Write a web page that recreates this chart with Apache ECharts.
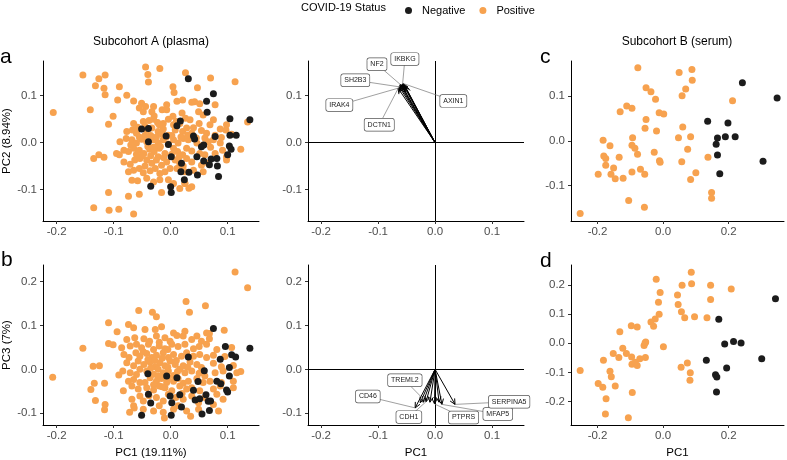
<!DOCTYPE html>
<html style="height: 100%">
<head>
<meta charset="UTF-8">
<title>PCA - COVID-19 status</title>
<script src="https://cdn.jsdelivr.net/npm/echarts@6/dist/echarts.min.js"></script>
</head>
<body style="height:100%; margin:0; background:#fff">
<div id="main" style="width:787px;height:460px;"></div>
<script>
// ---- data ----
// panel a: PC1 vs PC2, subcohort A (plasma)
var aPos = [[-0.206,0.064],[-0.154,0.144],[-0.126,0.136],[-0.115,0.144],[-0.132,0.121],[-0.117,0.116],[-0.115,0.102],[-0.141,0.070],[-0.101,0.056],[-0.109,0.039],
  [-0.090,0.119],[-0.093,0.091],[-0.077,0.101],[-0.065,0.089],[-0.044,0.161],[-0.040,0.145],[-0.039,0.129],[-0.019,0.158],[0.026,0.149],[0.070,0.138],
  [0.113,0.130],[0.004,0.119],[0.047,0.117],[0.006,0.107],[0.021,0.091],[0.042,0.087],[-0.135,-0.034],[-0.126,-0.026],[-0.117,-0.031],[-0.090,-0.026],
  [-0.109,-0.106],[-0.135,-0.139],[-0.108,-0.144],[-0.091,-0.142],[-0.065,-0.152],[-0.074,-0.114],[-0.055,-0.110],[-0.058,-0.081],[-0.016,-0.106],[0.016,-0.098],
  [0.032,-0.097],[0.025,-0.087],[0.123,-0.014],[0.135,0.044],
  [-0.051,0.084],[-0.044,0.077],[-0.030,0.077],[-0.007,0.081],[0.011,0.088],[0.037,0.086],[0.051,0.083],[0.078,0.081],
  [-0.055,0.074],[-0.048,0.066],[-0.033,0.066],[-0.029,0.057],[-0.015,0.070],[-0.007,0.070],[0.004,0.056],[0.020,0.063],[0.026,0.052],[0.049,0.066],[0.057,0.059],[0.075,0.049],
  [-0.065,0.041],[-0.048,0.045],[-0.038,0.047],[-0.030,0.050],[-0.023,0.043],[-0.013,0.041],[-0.004,0.050],[0.005,0.038],[0.016,0.041],[0.034,0.049],[0.050,0.041],[0.069,0.038],[0.098,0.038],[0.087,0.029],
  [-0.077,0.024],[-0.067,0.027],[-0.058,0.033],[-0.042,0.027],[-0.033,0.031],[-0.022,0.024],[-0.013,0.029],[-0.004,0.016],[0.008,0.027],[0.021,0.024],[0.028,0.031],[0.037,0.020],[0.054,0.026],[0.063,0.020],[0.078,0.016],[0.089,0.011],[0.097,0.027],[0.107,0.018],
  [-0.089,0.002],[-0.078,0.009],[-0.068,0.006],[-0.060,-0.001],[-0.051,0.007],[-0.042,0.002],[-0.030,0.006],[-0.022,-0.001],[-0.013,0.006],[-0.004,-0.003],[0.005,0.006],[0.013,-0.001],[0.022,0.009],[0.031,0.006],[0.046,-0.001],[0.057,-0.005],[0.066,0.002],[0.075,0.006],[0.087,-0.001],
  [-0.095,-0.023],[-0.082,-0.016],[-0.074,-0.019],[-0.065,-0.012],[-0.055,-0.016],[-0.047,-0.023],[-0.037,-0.014],[-0.029,-0.019],[-0.020,-0.012],[-0.010,-0.023],[0.005,-0.012],[0.012,-0.019],[0.021,-0.026],[0.028,-0.012],[0.037,-0.018],[0.051,-0.023],[0.060,-0.026],[0.078,-0.023],[0.091,-0.016],[0.098,-0.030],
  [-0.082,-0.041],[-0.071,-0.046],[-0.063,-0.037],[-0.054,-0.034],[-0.042,-0.037],[-0.033,-0.044],[-0.025,-0.037],[-0.016,-0.048],[-0.007,-0.041],[0.008,-0.037],[0.016,-0.044],[0.028,-0.034],[0.037,-0.041],[0.054,-0.048],[0.066,-0.044],[0.098,-0.037],
  [-0.074,-0.062],[-0.065,-0.059],[-0.055,-0.055],[-0.048,-0.064],[-0.036,-0.060],[-0.027,-0.055],[-0.019,-0.066],[-0.010,-0.062],[-0.001,-0.055],[0.011,-0.055],[0.025,-0.062],[0.040,-0.059],[0.057,-0.062],
  [-0.068,-0.080],[-0.042,-0.076],[-0.030,-0.084],[-0.019,-0.079],[-0.004,-0.079],[0.005,-0.087],[0.025,-0.087],[0.037,-0.094],
  [-0.035,0.015],[-0.025,0.012],[-0.015,0.018],[-0.045,0.015],[-0.055,0.012],[-0.040,-0.008],[-0.030,-0.010],[-0.018,-0.008],[-0.008,0.012],[0.002,0.015],
  [-0.050,-0.028],[-0.035,-0.028],[-0.022,-0.030],[-0.012,-0.032],[0.002,-0.025],[0.018,0.012],[0.030,0.016],[0.040,0.032],[-0.060,0.020],[-0.070,-0.005],
  [-0.045,0.035],[-0.020,0.038],[0.010,0.045],[0.022,-0.050],[-0.045,-0.050],[-0.060,-0.025],[0.045,0.010],[0.060,0.010],[0.070,-0.010],[0.015,-0.030]];
var aNeg = [[0.031,0.136],[0.075,0.104],[0.063,0.088],[0.064,0.065],[0.104,0.051],[0.139,0.049],[0.017,0.046],[-0.051,0.029],[-0.039,0.030],[-0.039,0.002],
  [-0.008,0.014],[0.011,0.036],[-0.004,-0.004],[0.040,0.014],[0.042,0.008],[0.054,-0.009],[0.058,-0.005],[0.078,0.013],[0.104,0.016],[0.115,0.016],
  [0.103,-0.007],[0.106,-0.014],[0.001,-0.030],[0.046,-0.030],[0.071,-0.035],[0.081,-0.034],[0.019,-0.044],[0.058,-0.039],[0.068,-0.047],[0.082,-0.050],
  [0.100,-0.026],[0.018,-0.062],[0.032,-0.063],[0.047,-0.069],[0.084,-0.072],[0.024,-0.079],[-0.035,-0.093],[0.000,-0.094],[0.001,-0.106]];

// panel b: PC1 vs PC3, subcohort A (plasma)
var bPos = [[-0.207,-0.018],[-0.154,0.048],[0.113,0.222],[0.135,0.186],[-0.109,0.106],[-0.094,0.086],[-0.109,0.059],[-0.101,0.056],[-0.074,0.102],[-0.056,0.134],
  [-0.032,0.130],[-0.025,0.120],[0.027,0.155],[0.033,0.130],[0.061,0.145],[-0.136,0.007],[-0.125,0.008],[-0.140,-0.046],[-0.132,-0.071],[-0.134,-0.032],
  [-0.116,-0.032],[-0.115,-0.080],[-0.116,-0.092],[-0.091,-0.013],[-0.072,-0.098],[-0.064,-0.088],[-0.011,-0.111],[0.035,-0.107],[0.123,-0.005],[0.094,0.089],
  [0.107,0.050],[0.068,0.070],
  [-0.065,0.095],[-0.045,0.091],[-0.027,0.091],[-0.016,0.097],[0.005,0.083],[0.025,0.087],[0.046,0.076],[0.063,0.083],
  [-0.077,0.068],[-0.063,0.072],[-0.047,0.070],[-0.037,0.064],[-0.025,0.076],[-0.010,0.072],[-0.001,0.064],[0.011,0.077],[0.022,0.076],[0.037,0.068],[0.054,0.064],[0.068,0.082],
  [-0.086,0.049],[-0.071,0.053],[-0.060,0.057],[-0.051,0.049],[-0.039,0.057],[-0.030,0.045],[-0.020,0.053],[-0.010,0.047],[0.002,0.057],[0.013,0.052],[0.025,0.057],[0.040,0.047],[0.050,0.052],[0.063,0.057],[0.081,0.045],
  [-0.082,0.034],[-0.073,0.027],[-0.061,0.038],[-0.054,0.030],[-0.042,0.036],[-0.033,0.027],[-0.025,0.032],[-0.013,0.038],[-0.004,0.027],[0.005,0.034],[0.019,0.030],[0.028,0.038],[0.040,0.030],[0.051,0.034],[0.063,0.027],[0.075,0.032],[0.095,0.029],
  [-0.077,0.015],[-0.065,0.008],[-0.057,0.019],[-0.047,0.011],[-0.036,0.017],[-0.027,0.006],[-0.019,0.015],[-0.010,0.008],[-0.001,0.019],[0.008,0.011],[0.022,0.008],[0.034,0.017],[0.046,0.011],[0.054,0.004],[0.075,0.014],[0.089,0.006],[0.110,0.009],
  [-0.084,-0.004],[-0.071,-0.008],[-0.054,0.000],[-0.042,-0.004],[-0.030,-0.011],[-0.022,0.000],[-0.013,-0.008],[-0.004,-0.004],[0.005,-0.014],[0.016,0.000],[0.025,-0.008],[0.037,-0.004],[0.050,-0.009],[0.060,-0.015],[0.078,-0.008],[0.092,-0.004],[0.116,-0.008],
  [-0.074,-0.027],[-0.065,-0.023],[-0.054,-0.030],[-0.036,-0.019],[-0.025,-0.027],[-0.016,-0.021],[-0.007,-0.030],[0.005,-0.027],[0.013,-0.021],[0.022,-0.032],[0.031,-0.027],[0.046,-0.021],[0.057,-0.030],[0.069,-0.027],[0.089,-0.030],[0.110,-0.027],
  [-0.083,-0.049],[-0.068,-0.038],[-0.057,-0.045],[-0.042,-0.042],[-0.030,-0.047],[-0.020,-0.038],[-0.010,-0.042],[0.002,-0.049],[0.016,-0.038],[0.028,-0.045],[0.037,-0.042],[0.051,-0.049],[0.075,-0.045],[0.087,-0.038],[0.110,-0.042],
  [-0.068,-0.068],[-0.054,-0.061],[-0.025,-0.064],[-0.013,-0.072],[-0.004,-0.057],[0.009,-0.064],[0.022,-0.068],[0.037,-0.061],[0.049,-0.076],[0.060,-0.064],[0.081,-0.057],[0.092,-0.068],[-0.048,-0.072],
  [-0.065,-0.083],[-0.048,-0.091],[-0.030,-0.095],[-0.020,-0.083],[-0.013,-0.098],[0.005,-0.091],[0.013,-0.083],[0.028,-0.095],[0.049,-0.091],[0.075,-0.080],[0.084,-0.095],
  [-0.040,0.022],[-0.028,0.020],[-0.015,0.025],[-0.005,0.005],[-0.035,0.003],[-0.022,-0.015],[-0.012,-0.017],[-0.030,-0.035],[-0.015,-0.040],[-0.005,-0.020],
  [0.010,0.020],[0.012,-0.005],[-0.048,0.040],[-0.020,0.062],[0.030,0.005],[-0.060,-0.012],[-0.045,-0.030],[-0.005,0.045],[0.020,-0.055],[-0.038,-0.060]];
var bNeg = [[0.075,0.093],[0.096,0.052],[0.107,0.033],[0.114,0.028],[0.139,0.048],[0.087,0.023],[0.031,0.028],[0.103,0.004],[0.103,-0.015],[0.059,-0.003],
  [-0.040,-0.010],[-0.007,-0.015],[0.011,-0.019],[0.048,-0.028],[-0.039,-0.057],[-0.035,-0.077],[-0.001,-0.061],[0.002,-0.076],[0.016,-0.058],[0.019,-0.086],
  [0.040,-0.048],[0.043,-0.070],[0.051,-0.067],[0.062,-0.058],[0.066,-0.073],[0.070,-0.072],[0.081,-0.027],[0.088,-0.033],[0.098,-0.047],[0.100,-0.052],
  [0.068,-0.094],[0.055,-0.102],[-0.051,-0.105],[0.001,-0.105]];

// panel c: PC1 vs PC2, subcohort B (serum)
var cPos = [[-0.253,-0.163],[-0.077,0.164],[0.049,0.153],[0.088,0.160],[0.089,0.136],[0.069,0.116],[0.058,0.101],[-0.052,0.119],[-0.037,0.110],[-0.023,0.093],
  [-0.111,0.078],[-0.095,0.073],[-0.131,0.065],[-0.012,0.063],[0.002,0.060],[-0.052,0.048],[-0.055,0.028],[-0.020,0.022],[0.060,0.031],[0.212,0.090],
  [-0.183,0.001],[-0.162,-0.011],[-0.093,0.007],[0.047,0.007],[0.084,0.009],[-0.181,-0.034],[-0.175,-0.040],[-0.175,-0.055],[-0.134,-0.037],[-0.095,-0.010],
  [-0.086,-0.017],[-0.078,-0.030],[-0.027,-0.026],[-0.011,-0.045],[-0.009,-0.048],[0.075,-0.019],[0.057,-0.047],[0.137,-0.037],[-0.151,-0.061],[-0.198,-0.075],
  [-0.159,-0.075],[-0.146,-0.085],[-0.122,-0.084],[-0.095,-0.070],[-0.069,-0.064],[-0.056,-0.075],[0.100,-0.072],[0.084,-0.087],[0.148,-0.116],[0.148,-0.129],
  [-0.105,-0.134],[-0.057,-0.149]];
var cNeg = [[0.242,0.130],[0.348,0.096],[0.136,0.044],[0.198,0.040],[0.220,0.009],[0.190,0.009],[0.166,0.006],[0.162,-0.008],[0.166,-0.032],[0.305,-0.046],[0.173,-0.074]];

// panel d: PC1 vs PC3, subcohort B (serum)
var dPos = [[-0.253,-0.093],[-0.198,-0.138],[-0.184,-0.151],[-0.174,-0.190],[-0.176,-0.242],[-0.106,-0.255],[-0.094,-0.169],[-0.146,-0.146],[-0.158,-0.115],[-0.162,-0.096],
  [-0.182,-0.058],[-0.152,-0.035],[-0.135,-0.049],[-0.123,-0.017],[-0.112,-0.035],[-0.096,-0.047],[-0.095,-0.072],[-0.085,-0.065],[-0.079,-0.076],[-0.071,-0.053],
  [-0.054,-0.049],[-0.058,-0.008],[-0.055,0.001],[-0.053,0.004],[0.001,-0.012],[-0.132,0.039],[-0.097,0.060],[-0.079,0.056],[-0.029,0.058],[-0.037,0.073],
  [-0.024,0.083],[-0.012,0.099],[-0.014,0.140],[-0.009,0.174],[-0.021,0.219],[0.044,0.165],[0.046,0.133],[0.056,0.108],[0.066,0.087],[0.096,0.091],
  [0.058,0.199],[0.086,0.243],[0.087,0.204],[0.145,0.199],[0.145,0.150],[0.208,0.186],[0.134,0.087],[0.055,-0.082],[0.074,-0.068],[0.083,-0.101],[0.082,-0.127]];
var dNeg = [[0.343,0.152],[0.170,0.082],[0.188,-0.003],[0.215,0.006],[0.238,0.001],[0.301,-0.053],[0.132,-0.058],[0.194,-0.085],[0.160,-0.108],[0.164,-0.116],[0.163,-0.167]];

// loadings (arrow tips) for the biplots
var topTips = [[-0.065,0.116],[-0.063,0.119],[-0.062,0.122],[-0.061,0.124],[-0.059,0.123],[-0.057,0.125],[-0.056,0.126],[-0.054,0.122],[-0.052,0.119]];
var topLabels = ['NF2','IKBKG','SH2B3','IRAK4','DCTN1','AXIN1'];
var topLabelPos = [[-0.102,0.167],[-0.053,0.178],[-0.140,0.133],[-0.168,0.080],[-0.098,0.038],[0.032,0.089]];
var topLabelTip = [3,5,1,0,2,6];

var bottomTips = [[-0.035,-0.088],[-0.026,-0.076],[-0.021,-0.075],[-0.016,-0.074],[-0.009,-0.075],[-0.001,-0.079],[0.007,-0.075],[0.012,-0.080],[0.035,-0.080]];
var bottomLabels = ['TREML2','CD46','CDH1','PTPRS','MFAP5','SERPINA5'];
var bottomLabelPos = [[-0.053,-0.025],[-0.118,-0.062],[-0.046,-0.109],[0.050,-0.110],[0.110,-0.102],[0.130,-0.074]];
var bottomLabelTip = [3,0,3,5,7,8];

// tick labels
var ticksX_A = [-0.2,-0.1,0,0.1];
var ticksY_A = [-0.1,0,0.1];
var ticksY_B = [-0.1,0,0.1,0.2];
var ticksX_C = [-0.2,0,0.2];
var ticksY_C = [-0.1,0,0.1];
var ticksY_D = [-0.2,-0.1,0,0.1,0.2];

var fam = 'Liberation Sans';
var colNeg = '#1c1c1c';
var colPos = '#f7a24f';

var myChart = echarts.init(document.getElementById('main'));

function axis(grid, min, max, ticks, name, isY) {
  return {
    type: 'value', gridIndex: grid, min: min, max: max,
    axisLine: { show: true, onZero: false, lineStyle: { color: '#000', width: 1 } },
    axisTick: { show: true, length: 3, customValues: ticks, lineStyle: { color: '#333' } },
    axisLabel: { customValues: ticks, formatter: function (v) { return v.toFixed(1); },
      color: '#4d4d4d', fontSize: 11.5, fontFamily: fam, margin: isY ? 6 : 5 },
    splitLine: { show: false },
    name: name, nameLocation: 'middle', nameGap: isY ? 23 : 22,
    nameTextStyle: { color: '#000', fontSize: 11.5, fontFamily: fam }
  };
}

function scatter(idx, name, data, color) {
  return { type: 'scatter', name: name, xAxisIndex: idx, yAxisIndex: idx, data: data,
    symbolSize: 7, itemStyle: { color: color, opacity: 1 }, silent: true };
}

// arrow from origin to each loading
function arrowItem(params, api) {
  var o = api.coord([0, 0]);
  var t = api.coord([api.value(0), api.value(1)]);
  var ang = Math.atan2(t[1] - o[1], t[0] - o[0]);
  var L = 6, A = Math.PI / 7;
  var p1 = [t[0] - L * Math.cos(ang - A), t[1] - L * Math.sin(ang - A)];
  var p2 = [t[0] - L * Math.cos(ang + A), t[1] - L * Math.sin(ang + A)];
  return { type: 'group', children: [
    { type: 'line', shape: { x1: o[0], y1: o[1], x2: t[0], y2: t[1] }, style: { stroke: '#000', lineWidth: 1 } },
    { type: 'polyline', shape: { points: [p1, t, p2] }, style: { stroke: '#000', fill: null, lineWidth: 1 } }
  ] };
}

function labelItem(names) {
  return function (params, api) {
    var p = api.coord([api.value(0), api.value(1)]);
    var t = api.coord([api.value(2), api.value(3)]);
    return { type: 'group', children: [
      { type: 'line', shape: { x1: p[0], y1: p[1], x2: t[0], y2: t[1] }, style: { stroke: '#777', lineWidth: 0.7 } },
      { type: 'text', x: p[0], y: p[1], style: { text: names[params.dataIndex], align: 'center', verticalAlign: 'middle',
        fontSize: 7, fontFamily: fam, fill: '#222', backgroundColor: '#fff', borderColor: '#555', borderWidth: 0.7,
        borderRadius: 2, padding: [2.5, 3] } }
    ] };
  };
}

function labelData(pos, tipIdx, tips) {
  return pos.map(function (p, i) { var t = tips[tipIdx[i]]; return [p[0], p[1], t[0], t[1]]; });
}

var refLines = { silent: true, symbol: 'none', label: { show: false }, animation: false,
  lineStyle: { color: '#000', width: 1, type: 'solid' }, data: [{ xAxis: 0 }, { yAxis: 0 }] };

var option = {
  animation: false,
  backgroundColor: '#fff',
  legend: {
    data: ['Negative', 'Positive'], left: 400, top: 0, icon: 'circle', itemWidth: 7, itemHeight: 7, itemGap: 14,
    textStyle: { fontFamily: fam, fontSize: 11, color: '#000', padding: [0, 0, 0, 5] }
  },
  grid: [
    { left: 43, top: 61, width: 216, height: 160 },
    { left: 43, top: 265, width: 216, height: 161 },
    { left: 308, top: 61, width: 216, height: 160 },
    { left: 308, top: 265, width: 216, height: 161 },
    { left: 571, top: 61, width: 213, height: 160 },
    { left: 571, top: 265, width: 213, height: 161 }
  ],
  xAxis: [
    axis(0, -0.224, 0.155, ticksX_A, '', false),
    axis(1, -0.224, 0.155, ticksX_A, 'PC1 (19.11%)', false),
    axis(2, -0.223, 0.156, ticksX_A, '', false),
    axis(3, -0.223, 0.156, ticksX_A, 'PC1', false),
    axis(4, -0.281, 0.369, ticksX_C, '', false),
    axis(5, -0.281, 0.369, ticksX_C, 'PC1', false)
  ],
  yAxis: [
    axis(0, -0.167, 0.174, ticksY_A, 'PC2 (8.94%)', true),
    axis(1, -0.127, 0.238, ticksY_B, 'PC3 (7%)', true),
    axis(2, -0.167, 0.174, ticksY_A, '', true),
    axis(3, -0.127, 0.238, ticksY_B, '', true),
    axis(4, -0.180, 0.179, ticksY_C, '', true),
    axis(5, -0.280, 0.268, ticksY_D, '', true)
  ],
  graphic: [
    { type: 'text', x: 301, y: 8, style: { text: 'COVID-19 Status', verticalAlign: 'middle', fontSize: 11, fontFamily: fam, fill: '#000' } },
    { type: 'text', x: 151, y: 42, style: { text: 'Subcohort A (plasma)', align: 'center', verticalAlign: 'middle', fontSize: 12, fontFamily: fam, fill: '#000' } },
    { type: 'text', x: 677, y: 42, style: { text: 'Subcohort B (serum)', align: 'center', verticalAlign: 'middle', fontSize: 12, fontFamily: fam, fill: '#000' } },
    { type: 'text', x: 0, y: 57, style: { text: 'a', verticalAlign: 'middle', fontSize: 21, fontFamily: fam, fill: '#000' } },
    { type: 'text', x: 1, y: 260, style: { text: 'b', verticalAlign: 'middle', fontSize: 21, fontFamily: fam, fill: '#000' } },
    { type: 'text', x: 540, y: 57, style: { text: 'c', verticalAlign: 'middle', fontSize: 21, fontFamily: fam, fill: '#000' } },
    { type: 'text', x: 540, y: 261, style: { text: 'd', verticalAlign: 'middle', fontSize: 21, fontFamily: fam, fill: '#000' } }
  ],
  series: [
    scatter(0, 'Positive', aPos, colPos),
    scatter(0, 'Negative', aNeg, colNeg),
    scatter(1, 'Positive', bPos, colPos),
    scatter(1, 'Negative', bNeg, colNeg),
    scatter(4, 'Positive', cPos, colPos),
    scatter(4, 'Negative', cNeg, colNeg),
    scatter(5, 'Positive', dPos, colPos),
    scatter(5, 'Negative', dNeg, colNeg),
    { type: 'custom', xAxisIndex: 2, yAxisIndex: 2, data: topTips, renderItem: arrowItem, clip: false, silent: true,
      encode: { x: 0, y: 1 }, markLine: refLines },
    { type: 'custom', xAxisIndex: 3, yAxisIndex: 3, data: bottomTips, renderItem: arrowItem, clip: false, silent: true,
      encode: { x: 0, y: 1 }, markLine: refLines },
    { type: 'custom', xAxisIndex: 2, yAxisIndex: 2, data: labelData(topLabelPos, topLabelTip, topTips),
      renderItem: labelItem(topLabels), clip: false, silent: true, encode: { x: [0, 2], y: [1, 3] }, z: 5 },
    { type: 'custom', xAxisIndex: 3, yAxisIndex: 3, data: labelData(bottomLabelPos, bottomLabelTip, bottomTips),
      renderItem: labelItem(bottomLabels), clip: false, silent: true, encode: { x: [0, 2], y: [1, 3] }, z: 5 }
  ]
};
myChart.setOption(option);
</script>
</body>
</html>
